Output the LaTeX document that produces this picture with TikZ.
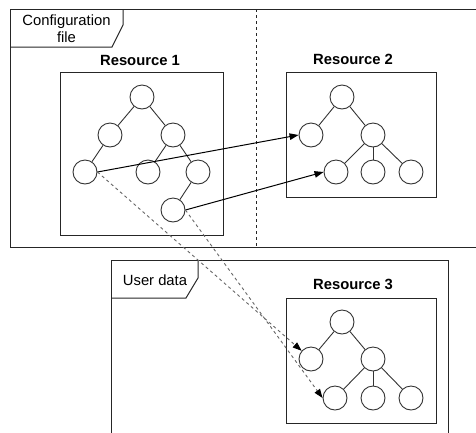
\documentclass[tikz,border=0pt]{standalone}
\usepackage{fontspec}
\setmainfont{Liberation Sans}
\usetikzlibrary{arrows.meta}
\begin{document}
\begin{tikzpicture}[x=1pt,y=-1pt,
  every node/.style={font=\fontsize{14.8}{17}\selectfont},
  frameline/.style={draw=black!85,line width=1pt},
  resbox/.style={draw=black!85,line width=1pt},
  treenode/.style={circle,draw=black!80,line width=0.9pt,minimum size=24pt,inner sep=0pt},
  treeedge/.style={draw=black!80,line width=0.9pt},
  title/.style={font=\fontsize{14.8}{17}\selectfont\bfseries},
  link/.style={draw=black,line width=1pt,-{Triangle[length=9pt,width=6.5pt]}},
  copylink/.style={draw=black!60,line width=0.9pt,dash pattern=on 3pt off 3pt,
    -{Triangle[length=9pt,width=6.5pt,color=black,fill=black]}},
  separator/.style={draw=black!85,line width=0.9pt,dash pattern=on 3pt off 3pt}]
\useasboundingbox (0,0) rectangle (476,432);
\clip (0,0) rectangle (476,432);

% configuration file frame with its tab
\draw[frameline] (10,9.3) -- (490,9.3) -- (490,247.7) -- (10,247.7) -- cycle;
\draw[frameline] (10,47) -- (112,47) -- (123,25) -- (123,9.3);
\node[align=center] (cfglabel) at (66.5,28.5) {Configuration\\file};
\draw[separator] (256,9.3) -- (256,247.7);

% user data frame with its tab
\draw[frameline] (111,260) -- (448,260) -- (448,445) -- (111,445) -- cycle;
\draw[frameline] (111,298) -- (186,298) -- (198,278) -- (198,260);
\node (userlabel) at (155,280) {User data};

% resource boxes
\draw[resbox] (60,72) rectangle (223,235);
\node[title] (t1) at (140,60) {Resource 1};
\draw[resbox] (286,72) rectangle (436,197);
\node[title] (t2) at (353,59) {Resource 2};
\draw[resbox] (286,298) rectangle (436,423);
\node[title] (t3) at (353,284) {Resource 3};

% resource 1 tree
\node[treenode] (a0) at (142,97) {};
\node[treenode] (a1) at (110,135) {};
\node[treenode] (a2) at (173,135) {};
\node[treenode] (a3) at (85,172) {};
\node[treenode] (a4) at (148,172) {};
\node[treenode] (a5) at (198,172) {};
\node[treenode] (a6) at (173,210) {};
\draw[treeedge] (a0) -- (a1);
\draw[treeedge] (a0) -- (a2);
\draw[treeedge] (a1) -- (a3);
\draw[treeedge] (a2) -- (a4);
\draw[treeedge] (a2) -- (a5);
\draw[treeedge] (a5) -- (a6);

% resource 2 tree
\node[treenode] (b0) at (342,97) {};
\node[treenode] (b1) at (311,135) {};
\node[treenode] (b2) at (373,135) {};
\node[treenode] (b3) at (336,172) {};
\node[treenode] (b4) at (373,172) {};
\node[treenode] (b5) at (411,172) {};
\draw[treeedge] (b0) -- (b1);
\draw[treeedge] (b0) -- (b2);
\draw[treeedge] (b2) -- (b3);
\draw[treeedge] (b2) -- (b4);
\draw[treeedge] (b2) -- (b5);

% resource 3 tree
\node[treenode] (c0) at (342,322) {};
\node[treenode] (c1) at (311,359) {};
\node[treenode] (c2) at (373,359) {};
\node[treenode] (c3) at (335,398) {};
\node[treenode] (c4) at (373,398) {};
\node[treenode] (c5) at (411,398) {};
\draw[treeedge] (c0) -- (c1);
\draw[treeedge] (c0) -- (c2);
\draw[treeedge] (c2) -- (c3);
\draw[treeedge] (c2) -- (c4);
\draw[treeedge] (c2) -- (c5);

% links between resources
\draw[link] (a3.east) -- (b1.west);
\draw[link] (a6.east) -- (b3.west);
\draw[copylink] (a3.east) -- (c1);
\draw[copylink] (a6.east) -- (c3.west);
\end{tikzpicture}
\end{document}
